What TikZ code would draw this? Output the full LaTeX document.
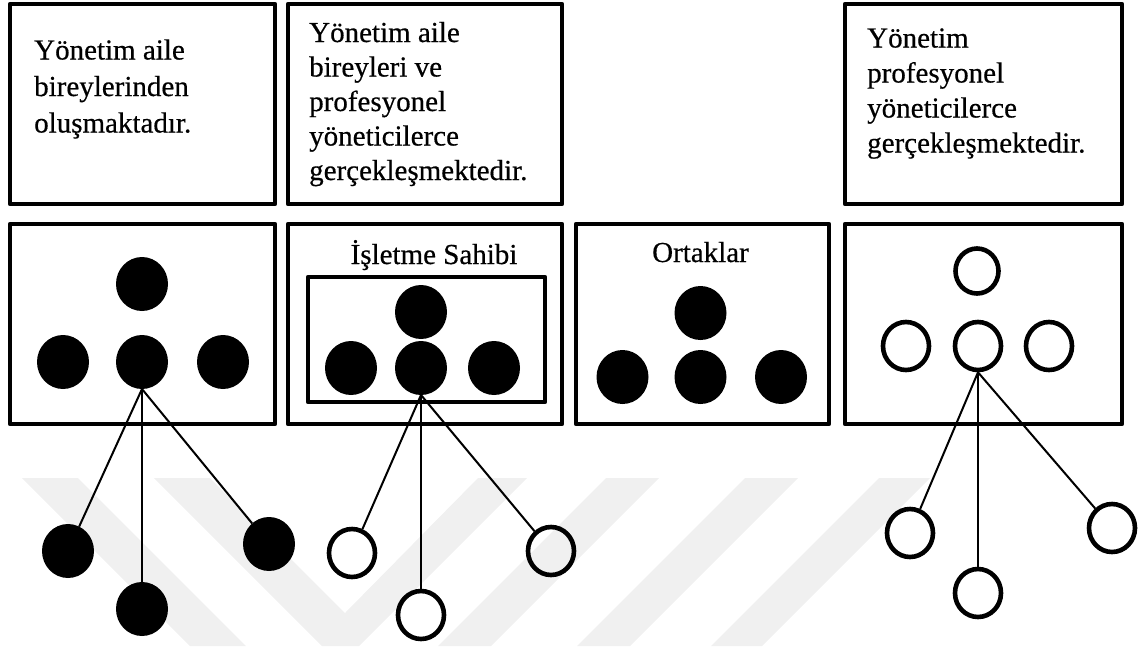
\documentclass[tikz,border=0pt]{standalone}
\usepackage{fontspec}
\setmainfont{Liberation Serif}[FakeBold=0.5]
\usetikzlibrary{shapes.geometric}
\tikzset{
  panel/.style={draw, rectangle, line width=4.5pt, line join=round, inner sep=0pt},
  solid dot/.style={ellipse, fill=black, minimum width=52pt, minimum height=54pt, inner sep=0pt, outer sep=0pt},
  ring/.style={ellipse, draw, line width=4.6pt, minimum width=46pt, minimum height=48pt, inner sep=0pt},
  link/.style={line width=2pt},
  band/.style={fill=black!6, draw=none},
  caption/.style={inner sep=0pt, font=\fontsize{29}{35}\selectfont},
}
\begin{document}
\begin{tikzpicture}[x=1pt,y=-1pt]
\useasboundingbox (0,0) rectangle (1143,646);

% faint background stripes
\fill[band] (22,478) -- (78,478) -- (246,646) -- (190,646) -- cycle;
\fill[band] (154,478) -- (210,478) -- (345,613) -- (478,478) -- (527,478) -- (359,646) -- (322,646) -- cycle;
\fill[band] (606,478) -- (659,478) -- (491,646) -- (438,646) -- cycle;
\fill[band] (745,478) -- (798,478) -- (630,646) -- (577,646) -- cycle;
\fill[band] (879,478) -- (930,478) -- (762,646) -- (711,646) -- cycle;

% upper row: description boxes
\node[panel, minimum width=265pt, minimum height=200pt] (d1) at (142.5,104) {};
\node[panel, minimum width=274pt, minimum height=200pt] (d2) at (425,104) {};
\node[panel, minimum width=277pt, minimum height=200pt] (d4) at (983.5,104) {};

\node[anchor=base west, inner sep=0pt] (d1t) at (34,59.5)
  {\parbox[t]{235pt}{\raggedright\fontsize{29}{36.5}\selectfont Yönetim aile\\bireylerinden\\oluşmaktadır.}};
\node[anchor=base west, inner sep=0pt] (d2t) at (309,42)
  {\parbox[t]{250pt}{\raggedright\fontsize{29}{34.5}\selectfont Yönetim aile\\bireyleri ve\\profesyonel\\yöneticilerce\\gerçekleşmektedir.}};
\node[anchor=base west, inner sep=0pt] (d4t) at (867,47.5)
  {\parbox[t]{250pt}{\raggedright\fontsize{29}{35}\selectfont Yönetim\\profesyonel\\yöneticilerce\\gerçekleşmektedir.}};

% lower row: ownership structures
\node[panel, minimum width=265pt, minimum height=200pt] (s1) at (142.5,324) {};
\node[panel, minimum width=274pt, minimum height=200pt] (s2) at (425,324) {};
\node[panel, minimum width=253pt, minimum height=200pt] (s3) at (702.5,324) {};
\node[panel, minimum width=277pt, minimum height=200pt] (s4) at (983.5,324) {};
\node[panel, minimum width=237pt, minimum height=125pt] (owner) at (426.5,339.5) {};

\node[caption, anchor=base] (ownerlabel) at (434,264) {İşletme Sahibi};
\node[caption, anchor=base] (partnerlabel) at (700.5,262) {Ortaklar};

% family-run: all members filled
\node[solid dot] (a0) at (142,284) {};
\node[solid dot] (a1) at (63,362) {};
\node[solid dot] (a2) at (142,362) {};
\node[solid dot] (a3) at (223,362) {};
\node[solid dot] (aL) at (68,551) {};
\node[solid dot] (aB) at (142,609) {};
\node[solid dot] (aR) at (269,544) {};
\draw[link] (a2.south) -- (aL);
\draw[link] (a2.south) -- (aB);
\draw[link] (a2.south) -- (aR);

% owner with professional managers
\node[solid dot] (b0) at (421,312) {};
\node[solid dot] (b1) at (351,368) {};
\node[solid dot] (b2) at (421,368) {};
\node[solid dot] (b3) at (494,368) {};
\node[ring] (bL) at (352,553) {};
\node[ring] (bB) at (421,615) {};
\node[ring] (bR) at (551,551) {};
\draw[link] (b2.south) -- (bL);
\draw[link] (b2.south) -- (bB);
\draw[link] (b2.south) -- (bR);

% partners
\node[solid dot] (c0) at (700.5,313) {};
\node[solid dot] (c1) at (622.5,377) {};
\node[solid dot] (c2) at (700.5,377) {};
\node[solid dot] (c3) at (781,377) {};

% fully professional management
\node[ring, minimum width=43pt, minimum height=45pt] (e0) at (977,271) {};
\node[ring] (e1) at (906,346) {};
\node[ring] (e2) at (978,346) {};
\node[ring] (e3) at (1049,346) {};
\node[ring] (eL) at (910,533) {};
\node[ring] (eB) at (978,593) {};
\node[ring] (eR) at (1112,528) {};
\draw[link] (e2.south) -- (eL);
\draw[link] (e2.south) -- (eB);
\draw[link] (e2.south) -- (eR);
\end{tikzpicture}
\end{document}
